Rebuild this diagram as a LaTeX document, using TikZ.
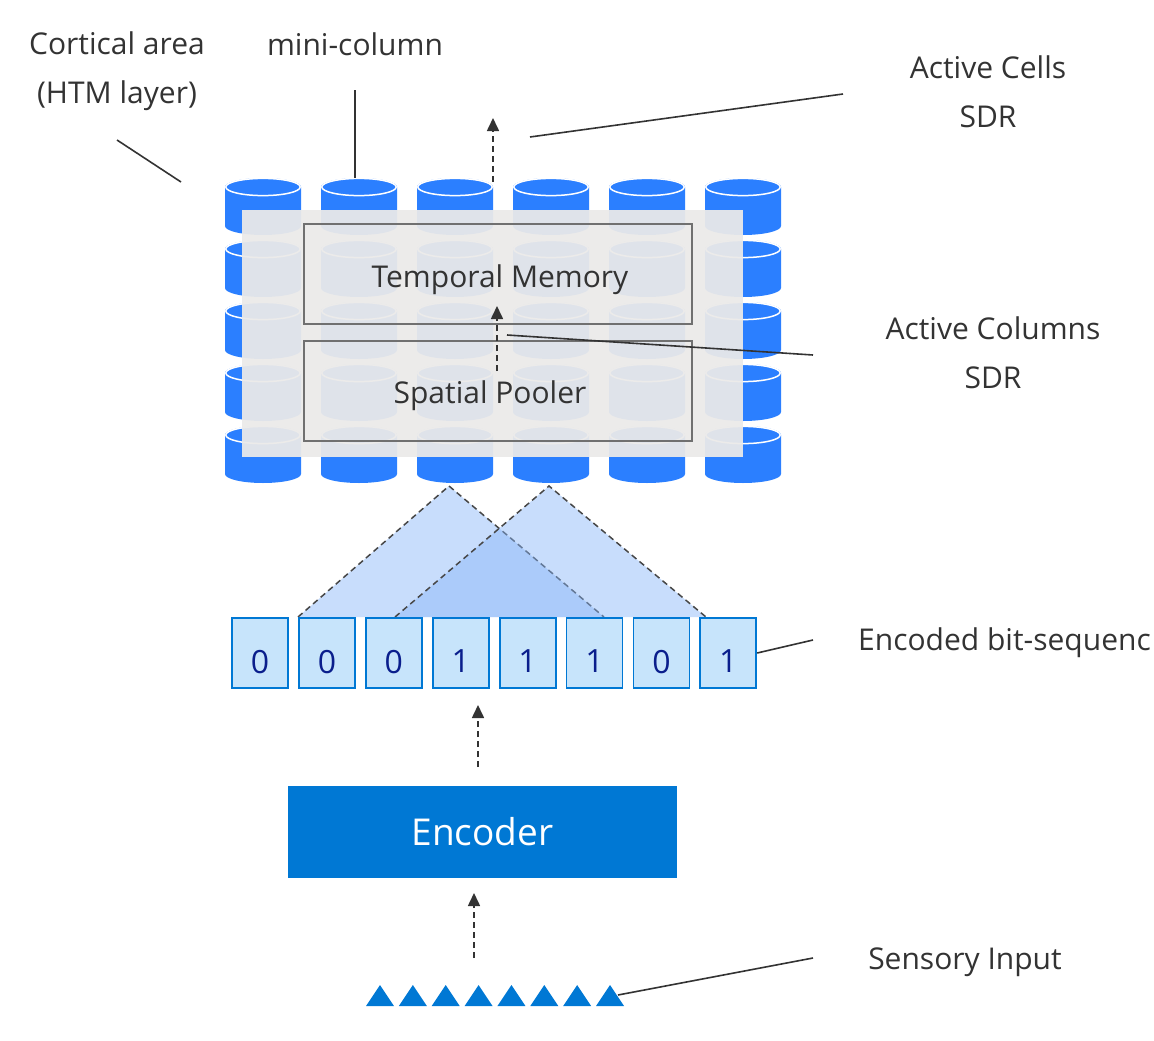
\documentclass[tikz,border=0pt]{standalone}
\usepackage{fontspec}
\setmainfont{Open Sans}
\usepackage{xcolor}
\usetikzlibrary{calc}
\usetikzlibrary{arrows.meta}
\definecolor{htmblue}{RGB}{43,127,255}
\definecolor{msblue}{RGB}{0,120,212}
\definecolor{bitfill}{RGB}{199,228,251}
\definecolor{bitnavy}{RGB}{10,30,140}
\definecolor{textgray}{RGB}{51,51,51}
\definecolor{boxgray}{RGB}{112,112,112}
\definecolor{areagray}{RGB}{235,234,233}
\definecolor{rffill}{RGB}{134,180,248}
\tikzset{
    lbl/.style={text=textgray, font=\fontsize{30}{49}\selectfont, align=center, inner sep=0pt},
    lead/.style={draw=textgray, line width=1.6pt},
    flow/.style={draw=textgray, line width=1.6pt, dash pattern=on 6pt off 4pt, -{Triangle[length=13pt,width=12pt]}},
    rfedge/.style={draw=textgray!90, line width=1.5pt, dash pattern=on 6pt off 4pt},
    bitbox/.style={draw=msblue, line width=1.8pt, fill=bitfill, minimum width=56pt, minimum height=70pt, inner sep=0pt, text=bitnavy, font=\fontsize{32}{36}\selectfont},
    layerbox/.style={draw=boxgray, line width=2pt, minimum width=388pt, minimum height=100pt}
}
\begin{document}
\begin{tikzpicture}[x=1pt,y=-1pt]
\useasboundingbox (0,0) rectangle (1154,1041);
% mini-columns
\foreach \c in {0,...,5}{
    \foreach \r in {0,...,4}{
        \coordinate (cyl\c\r) at ({263+96*\c},{187+62*\r});
        \fill[htmblue] ($(cyl\c\r)+(-38,0)$) -- ++(0,39) arc[start angle=180, end angle=0, x radius=38, y radius=9] -- ++(0,-39) arc[start angle=0, end angle=-180, x radius=38, y radius=9] -- cycle;
        \draw[white, line width=1.5pt] (cyl\c\r) ellipse [x radius=37.2, y radius=8.6];
    }
}
\fill[areagray, opacity=0.94] (242,210) rectangle (743,457);
\node[layerbox] (tmbox) at (498,274) {};
\node[layerbox] (spbox) at (498,391) {};
\node[lbl] (tm) at (500,280) {Temporal Memory};
\node[lbl] (sp) at (490,396) {Spatial Pooler};
\coordinate (spout) at (497,371);
\coordinate (tmin) at (497,306);
\draw[flow] (spout) -- (tmin);
\coordinate (tmout) at (493,182);
\coordinate (cellsout) at (493,118);
\draw[flow] (tmout) -- (cellsout);

% labels above
\node[lbl] (cortical) at (117,71) {Cortical area\\(HTM layer)};
\node[lbl] (minicol) at (355,44) {mini-column};
\node[lbl] (cells) at (988,92) {Active Cells\\SDR};
\node[lbl] (columns) at (993,353) {Active Columns\\SDR};
\coordinate (corta) at (117,140);
\coordinate (cortb) at (181,182);
\coordinate (minia) at (355,90);
\coordinate (minib) at (355,178);
\coordinate (cellsa) at (530,137);
\coordinate (cellsb) at (843,94);
\coordinate (colsa) at (507,335);
\coordinate (colsb) at (813,355);
\draw[lead] (corta) -- (cortb);
\draw[lead] (minia) -- (minib);
\draw[lead] (cellsa) -- (cellsb);
\draw[lead] (colsa) -- (colsb);

% receptive fields
\foreach \p/\x/\l/\r in {rfa/449/298/604, rfb/549/395/706}{
    \coordinate (\p) at (\x,486);
    \coordinate (\p l) at (\l,617);
    \coordinate (\p r) at (\r,617);
    \fill[rffill, opacity=0.45] (\p l) -- (\p) -- (\p r) -- cycle;
    \draw[rfedge] (\p l) -- (\p) -- (\p r);
}

% encoded bits
\foreach \i/\b in {0/0, 1/0, 2/0, 3/1, 4/1, 5/1, 6/0, 7/1}{
    \node[bitbox] (bit\i) at ({260+66.9*\i},653) {\raisebox{-8.5pt}[\height][0pt]{\b}};
}
\node[lbl, anchor=west] (encoded) at (858,643) {Encoded bit-sequenc};
\coordinate (bitsb) at (813,640);
\draw[lead] (bit7.east) -- (bitsb);

% encoder
\node[fill=msblue, minimum width=389pt, minimum height=92pt, text=white, font=\fontsize{37}{44}\selectfont] (enc) at (482.5,832) {Encoder};
\coordinate (encout) at (478,767);
\coordinate (bitsin) at (478,705);
\draw[flow] (encout) -- (bitsin);
\coordinate (sensout) at (474,958);
\coordinate (encin) at (474,893);
\draw[flow] (sensout) -- (encin);

% sensory input
\foreach \i in {0,...,7}{
    \coordinate (sens\i) at ({366+32.86*\i},1006);
    \fill[msblue] (sens\i) -- ++(28,0) -- ++(-14,-21) -- cycle;
}
\node[lbl] (sensory) at (965,962) {Sensory Input};
\coordinate (sensa) at (618,995);
\coordinate (sensb) at (813,958);
\draw[lead] (sensa) -- (sensb);
\end{tikzpicture}
\end{document}
